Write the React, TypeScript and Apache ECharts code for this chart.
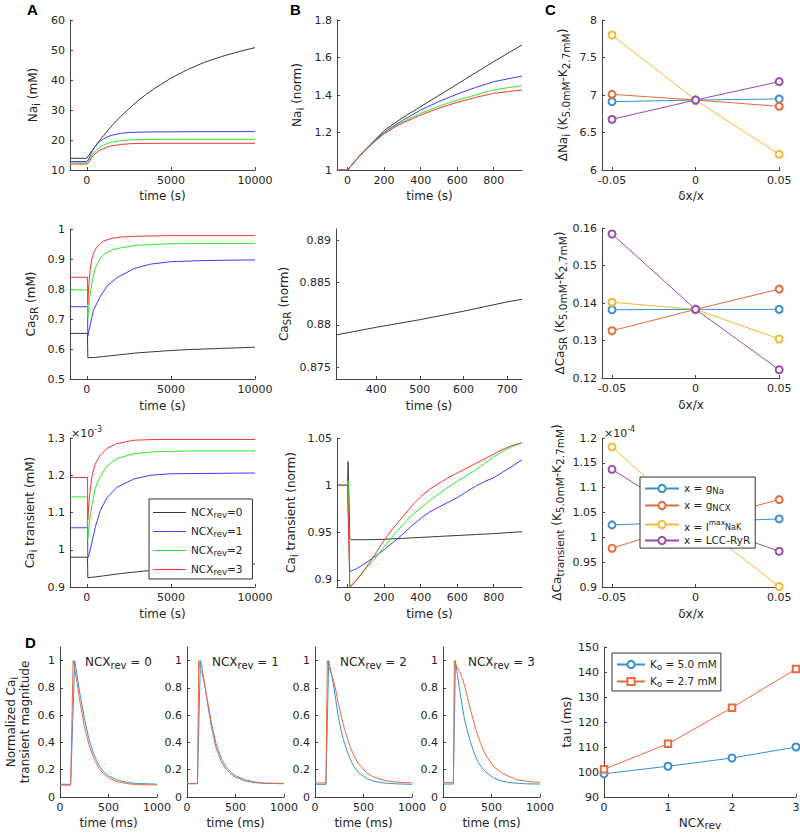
import React, { useEffect, useRef } from 'react';
import * as echarts from 'echarts';

type P = [number, number][];

// ---------- Panel A: absolute values vs time (s), NCX_rev = 0..3 ----------
const naAbs0: P = [[-1000,13.9],[0,13.9],[250,16.0],[500,17.9],[750,19.8],[1000,21.5],[1500,24.8],[2000,27.8],[2500,30.4],[3000,32.9],[3500,35.1],[4000,37.1],[5000,40.6],[6000,43.5],[7000,45.9],[8000,47.8],[9000,49.4],[10000,50.8]];
const naAbs1: P = [[-1000,12.8],[0,12.8],[125,13.7],[250,15.4],[375,16.8],[500,17.9],[750,19.4],[1000,20.4],[1250,21.1],[1500,21.6],[2000,22.2],[2500,22.5],[3000,22.6],[4000,22.7],[6000,22.75],[10000,22.8]];
const naAbs2: P = [[-1000,12.4],[0,12.4],[125,13.1],[250,14.4],[375,15.5],[500,16.3],[750,17.5],[1000,18.3],[1250,18.9],[1500,19.3],[2000,19.8],[2500,20.0],[3000,20.1],[4000,20.2],[10000,20.2]];
const naAbs3: P = [[-1000,12.0],[0,12.0],[125,12.6],[250,13.8],[375,14.8],[500,15.5],[750,16.5],[1000,17.2],[1250,17.7],[1500,18.1],[2000,18.5],[2500,18.75],[3000,18.85],[4000,18.9],[10000,18.9]];

const caSrAbs0: P = [[-1000,0.652],[40,0.652],[60,0.571],[500,0.572],[1000,0.575],[2000,0.581],[3000,0.587],[4000,0.591],[5000,0.595],[6000,0.598],[7000,0.6],[8000,0.602],[9000,0.604],[10000,0.606]];
const caSrAbs1: P = [[-1000,0.741],[40,0.741],[60,0.643],[200,0.68],[400,0.73],[800,0.775],[1200,0.81],[1800,0.838],[2800,0.868],[3800,0.883],[5000,0.891],[7000,0.895],[10000,0.897]];
const caSrAbs2: P = [[-1000,0.797],[40,0.797],[60,0.702],[150,0.76],[300,0.82],[500,0.87],[800,0.902],[1000,0.915],[1500,0.93],[2000,0.937],[3000,0.946],[5000,0.951],[10000,0.952]];
const caSrAbs3: P = [[-1000,0.839],[40,0.839],[60,0.749],[100,0.8],[200,0.865],[300,0.9],[400,0.92],[600,0.94],[800,0.952],[1000,0.96],[1500,0.969],[2000,0.973],[3000,0.976],[5000,0.978],[10000,0.978]];

// Ca_i transient, units of 1e-3 mM
const caTAbs0: P = [[-1000,0.98],[40,0.98],[60,0.925],[500,0.927],[1000,0.93],[2000,0.936],[3000,0.941],[4000,0.945],[5000,0.949],[6000,0.952],[7000,0.955],[8000,0.958],[9000,0.96],[10000,0.962]];
const caTAbs1: P = [[-1000,1.059],[30,1.059],[40,1.08],[60,0.978],[150,0.99],[300,1.02],[500,1.06],[800,1.105],[1200,1.14],[1800,1.168],[2800,1.19],[3800,1.2],[5000,1.204],[10000,1.206]];
const caTAbs2: P = [[-1000,1.142],[40,1.142],[60,1.03],[150,1.07],[300,1.12],[500,1.165],[800,1.196],[1200,1.225],[1800,1.245],[2800,1.258],[4000,1.263],[6000,1.265],[10000,1.265]];
const caTAbs3: P = [[-1000,1.194],[40,1.194],[60,1.08],[150,1.14],[300,1.196],[500,1.23],[800,1.254],[1200,1.272],[1800,1.285],[2800,1.294],[4000,1.296],[10000,1.296]];

// ---------- Panel B: normalised values vs time (s) ----------
const naNorm0: P = [[-58,1],[0,1],[50,1.058],[100,1.112],[150,1.16],[200,1.21],[250,1.245],[300,1.278],[400,1.338],[500,1.398],[600,1.458],[700,1.518],[800,1.578],[955,1.667]];
const naNorm1: P = [[-58,1],[0,1],[50,1.058],[100,1.112],[150,1.158],[200,1.2],[250,1.234],[300,1.264],[400,1.32],[500,1.365],[600,1.405],[700,1.44],[800,1.471],[955,1.501]];
const naNorm2: P = [[-58,1],[0,1],[50,1.058],[100,1.11],[150,1.155],[200,1.196],[250,1.228],[300,1.255],[400,1.302],[500,1.34],[600,1.373],[700,1.4],[800,1.427],[955,1.45]];
const naNorm3: P = [[-58,1],[0,1],[50,1.057],[100,1.108],[150,1.153],[200,1.193],[250,1.224],[300,1.25],[400,1.293],[500,1.33],[600,1.361],[700,1.387],[800,1.409],[955,1.427]];

const caSrNorm0: P = [[308,0.8788],[400,0.8797],[500,0.8806],[600,0.8816],[700,0.8827],[734,0.883]];

const caTNorm0: P = [[-58,1],[0,1],[3,1.025],[12,0.944],[20,0.9425],[100,0.9425],[200,0.943],[300,0.944],[400,0.945],[500,0.946],[600,0.947],[700,0.948],[800,0.949],[955,0.951]];
const caTNorm1: P = [[-58,1],[0,1],[12,0.909],[50,0.912],[100,0.918],[150,0.925],[200,0.932],[250,0.94],[300,0.948],[350,0.957],[400,0.965],[450,0.972],[500,0.977],[550,0.982],[600,0.987],[650,0.993],[700,0.999],[750,1.004],[800,1.008],[850,1.014],[900,1.02],[955,1.027]];
const caTNorm2: P = [[-58,1],[0,1],[3,1.005],[12,0.893],[50,0.9],[100,0.912],[150,0.923],[200,0.935],[250,0.947],[300,0.958],[350,0.968],[400,0.976],[450,0.984],[500,0.991],[550,0.998],[600,1.004],[650,1.01],[700,1.016],[750,1.023],[800,1.03],[850,1.036],[900,1.041],[955,1.045]];
const caTNorm3: P = [[-58,1],[0,1],[12,0.892],[50,0.9],[100,0.913],[150,0.927],[200,0.942],[250,0.955],[300,0.966],[350,0.978],[400,0.988],[450,0.996],[500,1.002],[550,1.008],[600,1.013],[650,1.018],[700,1.023],[750,1.028],[800,1.033],[850,1.038],[900,1.042],[955,1.045]];

// ---------- Panel C: sensitivity, dx/x ----------
const deltaX = [-0.05, 0, 0.05];
const dNa_gNa = [6.911, 6.933, 6.947];
const dNa_gNCX = [7.009, 6.933, 6.849];
const dNa_INaK = [7.8, 6.933, 6.209];
const dNa_LCC = [6.676, 6.933, 7.178];
const dCaSR_gNa = [0.1382, 0.1383, 0.1383];
const dCaSR_gNCX = [0.1326, 0.1383, 0.1437];
const dCaSR_INaK = [0.1402, 0.1383, 0.1304];
const dCaSR_LCC = [0.1584, 0.1383, 0.1222];
// units of 1e-4
const dCaT_gNa = [1.025, 1.031, 1.037];
const dCaT_gNCX = [0.978, 1.031, 1.076];
const dCaT_INaK = [1.182, 1.031, 0.901];
const dCaT_LCC = [1.137, 1.031, 0.972];

// ---------- Panel D: normalised Ca_i transients (ms), Ko 5.0 vs 2.7 ----------
const tr0K50: P = [[0,0.093],[110,0.093],[152,1.0],[175,0.9],[200,0.78],[250,0.58],[300,0.42],[350,0.31],[400,0.235],[450,0.185],[500,0.155],[600,0.122],[700,0.106],[800,0.099],[1000,0.094]];
const tr0K27: P = [[0,0.087],[110,0.087],[135,1.0],[150,0.95],[175,0.84],[200,0.72],[250,0.52],[300,0.38],[350,0.28],[400,0.21],[450,0.17],[500,0.14],[600,0.11],[700,0.097],[800,0.091],[1000,0.088]];
const tr1K50: P = [[0,0.097],[108,0.097],[138,1.0],[150,0.97],[175,0.86],[200,0.74],[250,0.52],[300,0.36],[350,0.265],[400,0.205],[450,0.17],[500,0.145],[600,0.118],[700,0.105],[800,0.1],[1000,0.097]];
const tr1K27: P = [[0,0.099],[108,0.099],[121,1.0],[138,0.93],[150,0.92],[175,0.85],[200,0.75],[250,0.55],[300,0.39],[350,0.29],[400,0.225],[450,0.185],[500,0.157],[600,0.125],[700,0.11],[800,0.103],[1000,0.099]];
const tr2K50: P = [[0,0.093],[113,0.093],[141,1.0],[165,0.92],[189,0.83],[215,0.71],[240,0.59],[265,0.5],[292,0.42],[325,0.35],[361,0.28],[400,0.225],[447,0.18],[533,0.135],[600,0.117],[704,0.103],[850,0.096],[1000,0.093]];
const tr2K27: P = [[0,0.103],[113,0.103],[127,1.0],[141,0.95],[165,0.91],[189,0.86],[215,0.78],[240,0.69],[265,0.61],[292,0.53],[325,0.45],[361,0.37],[400,0.305],[447,0.245],[533,0.176],[600,0.148],[704,0.123],[850,0.108],[1000,0.104]];
const tr3K50: P = [[0,0.095],[107,0.095],[128,1.0],[150,0.89],[172,0.78],[200,0.66],[224,0.56],[250,0.49],[276,0.42],[310,0.345],[345,0.28],[390,0.225],[431,0.19],[517,0.142],[600,0.118],[690,0.105],[850,0.097],[1000,0.095]];
const tr3K27: P = [[0,0.105],[107,0.105],[117,1.0],[138,0.96],[172,0.92],[200,0.87],[224,0.81],[250,0.74],[276,0.66],[310,0.57],[345,0.48],[390,0.39],[431,0.32],[517,0.225],[621,0.17],[759,0.127],[900,0.112],[1000,0.108]];

const ncxRev = [0, 1, 2, 3];
const tauK50 = [99.3, 102.3, 105.6, 110.0];
const tauK27 = [101.1, 111.3, 125.7, 141.2];

// ---------- tick labels ----------
const ticksTimeLong = [0, 5000, 10000];
const ticksTimeShort = [0, 200, 400, 600, 800];
const ticksTimeSR = [400, 500, 600, 700];
const ticksDx = [-0.05, 0, 0.05];
const ticksNaAbs = [10, 20, 30, 40, 50, 60];
const ticksNaNorm = [1, 1.2, 1.4, 1.6, 1.8];
const ticksDNa = [6, 6.5, 7, 7.5, 8];
const ticksCaSrAbs = [0.5, 0.6, 0.7, 0.8, 0.9, 1];
const ticksCaSrNorm = [0.875, 0.88, 0.885, 0.89];
const ticksDCaSR = [0.12, 0.13, 0.14, 0.15, 0.16];
const ticksCaTAbs = [0.9, 1, 1.1, 1.2, 1.3];
const ticksCaTNorm = [0.9, 0.95, 1, 1.05];
const ticksDCaT = [0.9, 0.95, 1, 1.05, 1.1, 1.15, 1.2];
const ticksTrX = [0, 500, 1000];
const ticksTrY = [0, 0.2, 0.4, 0.6, 0.8, 1];
const ticksTau = [90, 100, 110, 120, 130, 140, 150];

const ncxNames = ['NCX0', 'NCX1', 'NCX2', 'NCX3'];
const paramNames = ['gNa', 'gNCX', 'INaK', 'LCC'];
const koNames = ['K50', 'K27'];

// ---------- styling ----------
const FONT = 'DejaVu Sans';
const TXT = '#262626';
const AX = '#444444';
const NCX_COL = ['#3a3a3a', '#3c3cff', '#2ee82e', '#ff3434'];
const P_COL = ['#3a8fd4', '#ea6a3e', '#f2b934', '#9a4bb0'];

const AXRICH: any = {
  n: { fontSize: 12, lineHeight: 14, verticalAlign: 'top', fontFamily: FONT, color: TXT },
  s: { fontSize: 10.5, lineHeight: 11, padding: [6, 0, 0, 0], verticalAlign: 'bottom', fontFamily: FONT, color: TXT },
};
const LRICH: any = {
  n: { fontSize: 10.5, lineHeight: 13, verticalAlign: 'top', fontFamily: FONT, color: TXT },
  s: { fontSize: 8.5, lineHeight: 9, padding: [6, 0, 0, 0], verticalAlign: 'bottom', fontFamily: FONT, color: TXT },
  m: { fontSize: 10.5, lineHeight: 13, padding: [3, 0, 0, 0], verticalAlign: 'top', fontFamily: FONT, color: TXT },
  p: { fontSize: 7.5, lineHeight: 8, verticalAlign: 'top', fontFamily: FONT, color: TXT },
  q: { fontSize: 8, lineHeight: 8, padding: [9, 0, 0, 0], verticalAlign: 'bottom', fontFamily: FONT, color: TXT },
};
const GRICH: any = {
  n: { fontSize: 12, lineHeight: 14, verticalAlign: 'top', fontFamily: FONT, fill: TXT },
  s: { fontSize: 10, lineHeight: 10, padding: [6, 0, 0, 0], verticalAlign: 'bottom', fontFamily: FONT, fill: TXT },
  m: { fontSize: 11, lineHeight: 14, verticalAlign: 'bottom', fontFamily: FONT, fill: TXT },
  e: { fontSize: 8, lineHeight: 8, verticalAlign: 'top', fontFamily: FONT, fill: TXT },
};

const GRIDS = [
  { left: 70, top: 20, width: 185, height: 150 },
  { left: 337, top: 20, width: 185, height: 150 },
  { left: 602, top: 20, width: 178, height: 150 },
  { left: 70, top: 229, width: 185, height: 150 },
  { left: 336, top: 229, width: 186, height: 150 },
  { left: 602, top: 228, width: 178, height: 150 },
  { left: 70, top: 438, width: 185, height: 149 },
  { left: 337, top: 438, width: 185, height: 149 },
  { left: 602, top: 438, width: 178, height: 149 },
  { left: 60, top: 647, width: 97, height: 150 },
  { left: 187, top: 647, width: 97, height: 150 },
  { left: 315, top: 647, width: 97, height: 150 },
  { left: 443, top: 647, width: 97, height: 150 },
  { left: 604, top: 647, width: 192, height: 150 },
];

function ax(gi: number, min: number, max: number, ticks: number[], name: string, nameGap: number) {
  return {
    gridIndex: gi, type: 'value', min, max, name, nameGap, nameLocation: 'middle',
    nameTextStyle: { color: TXT, fontFamily: FONT, fontSize: 12, rich: AXRICH },
    splitLine: { show: false },
    axisLine: { show: true, onZero: false, lineStyle: { color: AX, width: 1 } },
    axisTick: { show: true, inside: true, length: 3, lineStyle: { color: AX, width: 1 }, customValues: ticks },
    axisLabel: { color: TXT, fontFamily: FONT, fontSize: 11, margin: 5, customValues: ticks, formatter: (v: number) => String(v) },
  };
}

function ln(i: number, data: any[], color: string, name?: string, extra: any = {}) {
  return {
    type: 'line', xAxisIndex: i, yAxisIndex: i, data, name, symbol: 'none', silent: true,
    lineStyle: { color, width: 1 }, itemStyle: { color }, ...extra,
  };
}

function pairs(xs: number[], ys: number[]) {
  return xs.map((x, k) => [x, ys[k]]);
}

const LEG_TEXT: Record<string, string> = {
  NCX0: '{n|NCX}{s|rev}{n|=0}', NCX1: '{n|NCX}{s|rev}{n|=1}', NCX2: '{n|NCX}{s|rev}{n|=2}', NCX3: '{n|NCX}{s|rev}{n|=3}',
  gNa: '{n|x = g}{s|Na}', gNCX: '{n|x = g}{s|NCX}', INaK: '{m|x = I}{p|max}{q|NaK}', LCC: '{n|x = LCC-RyR}',
  K50: '{n|K}{s|o}{n| = 5.0 mM}', K27: '{n|K}{s|o}{n| = 2.7 mM}',
};

function legend(left: number, top: number, data: any[], itemWidth: number, itemHeight: number, itemGap: number, padding: number[]) {
  return {
    left, top, orient: 'vertical', data, itemWidth, itemHeight, itemGap, padding, selectedMode: false,
    borderColor: '#333', borderWidth: 1, backgroundColor: '#fff',
    formatter: (n: string) => LEG_TEXT[n], textStyle: { rich: LRICH, fontFamily: FONT, fontSize: 10.5, color: TXT },
  };
}

function buildOption() {
  const series: any[] = [];
  const ncxSets = [
    [naAbs0, naAbs1, naAbs2, naAbs3],
    [naNorm0, naNorm1, naNorm2, naNorm3],
    [caSrAbs0, caSrAbs1, caSrAbs2, caSrAbs3],
    [caTAbs0, caTAbs1, caTAbs2, caTAbs3],
    [caTNorm0, caTNorm1, caTNorm2, caTNorm3],
  ];
  const ncxAxes = [0, 1, 3, 6, 7];
  ncxSets.forEach((set, si) => set.forEach((d, k) => series.push(ln(ncxAxes[si], d, NCX_COL[k], ncxNames[k]))));
  series.push(ln(4, caSrNorm0, NCX_COL[0], 'NCX0'));

  const cSets = [
    [dNa_gNa, dNa_gNCX, dNa_INaK, dNa_LCC],
    [dCaSR_gNa, dCaSR_gNCX, dCaSR_INaK, dCaSR_LCC],
    [dCaT_gNa, dCaT_gNCX, dCaT_INaK, dCaT_LCC],
  ];
  const cAxes = [2, 5, 8];
  cSets.forEach((set, si) => set.forEach((ys, k) => series.push(ln(cAxes[si], pairs(deltaX, ys), P_COL[k], paramNames[k], {
    symbol: 'emptyCircle', symbolSize: 7, showSymbol: true, clip: false,
  }))));

  const trSets = [[tr0K50, tr0K27], [tr1K50, tr1K27], [tr2K50, tr2K27], [tr3K50, tr3K27]];
  trSets.forEach((pair, k) => {
    series.push(ln(9 + k, pair[0], P_COL[0], 'tr' + k + 'a'));
    series.push(ln(9 + k, pair[1], P_COL[1], 'tr' + k + 'b'));
  });
  series.push(ln(13, pairs(ncxRev, tauK50), P_COL[0], koNames[0], { symbol: 'emptyCircle', symbolSize: 7, showSymbol: true, clip: false }));
  series.push(ln(13, pairs(ncxRev, tauK27), P_COL[1], koNames[1], { symbol: 'emptyRect', symbolSize: 6.5, showSymbol: true, clip: false }));

  const xAxis = [
    ax(0, -1000, 10000, ticksTimeLong, 'time (s)', 20),
    ax(1, -58, 955, ticksTimeShort, 'time (s)', 20),
    ax(2, -0.056, 0.0505, ticksDx, 'δx/x', 20),
    ax(3, -1000, 10000, ticksTimeLong, 'time (s)', 21),
    ax(4, 308, 734, ticksTimeSR, 'time (s)', 21),
    ax(5, -0.056, 0.0505, ticksDx, 'δx/x', 21),
    ax(6, -1000, 10000, ticksTimeLong, 'time (s)', 21),
    ax(7, -58, 955, ticksTimeShort, 'time (s)', 21),
    ax(8, -0.056, 0.0505, ticksDx, 'δx/x', 21),
    ax(9, 0, 1000, ticksTrX, 'time (ms)', 20),
    ax(10, 0, 1000, ticksTrX, 'time (ms)', 20),
    ax(11, 0, 1000, ticksTrX, 'time (ms)', 20),
    ax(12, 0, 1000, ticksTrX, 'time (ms)', 20),
    ax(13, 0, 3, ncxRev, '{n|NCX}{s|rev}', 18),
  ];
  const yAxis = [
    ax(0, 10, 60, ticksNaAbs, '{n|Na}{s|i}{n| (mM)}', 29),
    ax(1, 1, 1.8, ticksNaNorm, '{n|Na}{s|i}{n| (norm)}', 32),
    ax(2, 6, 8, ticksDNa, '{n|ΔNa}{s|i}{n| (K}{s|5.0mM}{n|-K}{s|2.7mM}{n|)}', 31),
    ax(3, 0.5, 1, ticksCaSrAbs, '{n|Ca}{s|SR}{n| (mM)}', 31),
    ax(4, 0.8736, 0.8913, ticksCaSrNorm, '{n|Ca}{s|SR}{n| (norm)}', 44),
    ax(5, 0.12, 0.16, ticksDCaSR, '{n|ΔCa}{s|SR}{n| (K}{s|5.0mM}{n|-K}{s|2.7mM}{n|)}', 34),
    ax(6, 0.9, 1.3, ticksCaTAbs, '{n|Ca}{s|i}{n| transient (mM)}', 32),
    ax(7, 0.8926, 1.05, ticksCaTNorm, '{n|Ca}{s|i}{n| transient (norm)}', 38),
    ax(8, 0.9, 1.2, ticksDCaT, '{n|ΔCa}{s|transient}{n| (K}{s|5.0mM}{n|-K}{s|2.7mM}{n|)}', 37),
    ax(9, 0, 1.1, ticksTrY, '{n|Normalized Ca}{s|i}\n{n|transient magnitude}', 27),
    ax(10, 0, 1.1, ticksTrY, '', 0),
    ax(11, 0, 1.1, ticksTrY, '', 0),
    ax(12, 0, 1.1, ticksTrY, '', 0),
    ax(13, 90, 150, ticksTau, 'tau (ms)', 31),
  ];

  const letter = (t: string, left: number, top: number) => ({
    type: 'text', left, top, silent: true,
    style: { text: t, font: 'bold 15px "Liberation Sans", Arial, sans-serif', fill: '#000' },
  });
  const rich = (t: string, left: number, top: number) => ({
    type: 'text', left, top, silent: true, style: { text: t, rich: GRICH, fill: TXT, font: '12px "DejaVu Sans"' },
  });
  const graphic = [
    letter('A', 27, 2), letter('B', 290, 2), letter('C', 545, 2), letter('D', 25, 635),
    rich('{m|×10}{e|-3}', 71, 425), rich('{m|×10}{e|-4}', 604, 425),
    rich('{n|NCX}{s|rev}{n| = 0}', 85, 654), rich('{n|NCX}{s|rev}{n| = 1}', 212, 654),
    rich('{n|NCX}{s|rev}{n| = 2}', 340, 654), rich('{n|NCX}{s|rev}{n| = 3}', 468, 654),
  ];

  return {
    animation: false,
    backgroundColor: '#ffffff',
    textStyle: { fontFamily: FONT },
    grid: GRIDS.map((g) => ({ ...g, containLabel: false, outerBoundsMode: 'none' })),
    xAxis, yAxis, series, graphic,
    legend: [
      legend(149, 499, ncxNames.map((n) => ({ name: n, icon: 'rect' })), 33, 1, 4, [5, 10, 3, 4]),
      legend(640, 477, paramNames, 34, 9, 2, [3, 5, 3, 4]),
      legend(612, 653, koNames, 28, 9, 2, [3, 4, 3, 4]),
    ],
  };
}

export default function App() {
  const ref = useRef<HTMLDivElement>(null);
  useEffect(() => {
    if (!ref.current) return;
    const chart = echarts.init(ref.current, undefined, { renderer: 'svg' });
    chart.setOption(buildOption() as any);
    return () => chart.dispose();
  }, []);
  return <div ref={ref} style={{ position: 'fixed', left: 0, top: 0, width: 800, height: 835, background: '#fff' }} />;
}
